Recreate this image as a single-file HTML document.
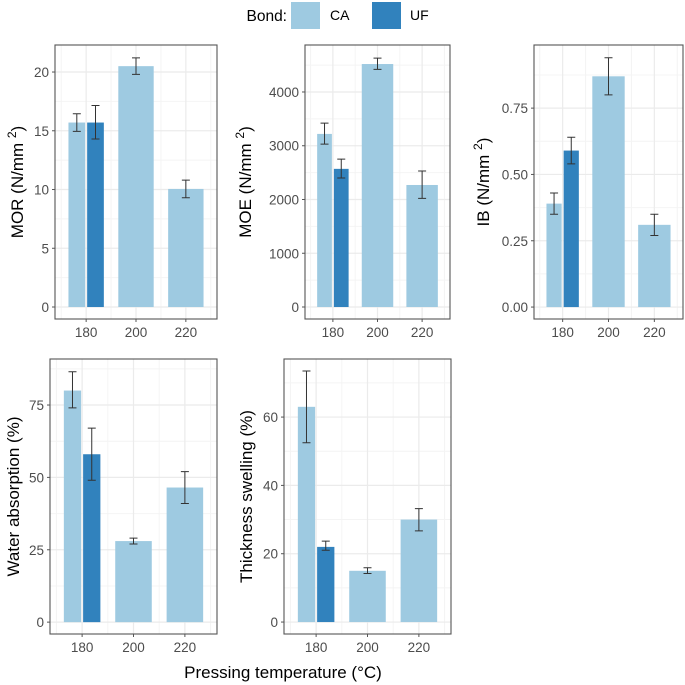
<!DOCTYPE html>
<html><head><meta charset="utf-8"><style>
html,body{margin:0;padding:0;background:#fff;}
svg{display:block;font-family:"Liberation Sans",sans-serif;}
</style></head><body>
<svg id="c" width="685" height="685" viewBox="0 0 685 685">
  <g>
    <text x="287" y="21" font-size="15.5" fill="#000" text-anchor="end">Bond:</text>
    <rect x="291" y="2" width="29" height="27" fill="#9ecae1"/>
    <text x="330" y="20" font-size="14" fill="#000">CA</text>
    <rect x="372" y="2" width="29" height="27" fill="#3182bd"/>
    <text x="410" y="20" font-size="14" fill="#000">UF</text>
  </g>
  <text x="283" y="678" font-size="17" text-anchor="middle" fill="#000">Pressing temperature (°C)</text>
</svg>
<script>
const temps = [180, 200, 220];
const bonds = ["CA", "UF", "CA", "CA"];
const barTemps = [180, 180, 200, 220];
const morVals = [15.7, 15.7, 20.5, 10.05];
const morLo = [14.95, 14.3, 19.8, 9.3];
const morHi = [16.45, 17.15, 21.2, 10.8];
const moeVals = [3220, 2570, 4520, 2270];
const moeLo = [3030, 2400, 4420, 2020];
const moeHi = [3420, 2750, 4630, 2530];
const ibVals = [0.39, 0.59, 0.87, 0.31];
const ibLo = [0.35, 0.54, 0.80, 0.27];
const ibHi = [0.43, 0.64, 0.94, 0.35];
const waVals = [80, 58, 28, 46.5];
const waLo = [74, 49, 27, 41];
const waHi = [86.5, 67, 29, 52];
const tsVals = [63, 22, 15, 30];
const tsLo = [52.5, 21, 14.2, 26.7];
const tsHi = [73.5, 23.7, 15.9, 33.2];
const morTicks = [0, 5, 10, 15, 20];
const moeTicks = [0, 1000, 2000, 3000, 4000];
const ibTicks = [0, 0.25, 0.5, 0.75];
const ibTickLabels = ["0.00", "0.25", "0.50", "0.75"];
const waTicks = [0, 25, 50, 75];
const tsTicks = [0, 20, 40, 60];

const NS = "http://www.w3.org/2000/svg";
const svg = document.getElementById("c");
function mk(tag, attrs, parent) {
  const e = document.createElementNS(NS, tag);
  for (const k in attrs) e.setAttribute(k, attrs[k]);
  parent.appendChild(e);
  return e;
}
const COL = {CA: "#9ecae1", UF: "#3182bd"};

function panel(p) {
  const g = mk("g", {}, svg);
  
  
  const xs = v => p.x0 + (v - 167.5) / 65 * (p.x1 - p.x0);
  const ys = v => p.y1 - (v - p.ymin) / (p.ymax - p.ymin) * (p.y1 - p.y0);
  mk("rect", {x: p.x0, y: p.y0, width: p.x1 - p.x0, height: p.y1 - p.y0, fill: "#fff"}, g);
  for (let i = 0; i < p.ticks.length; i++) {
    const m = p.ticks[i] + (p.ticks[1] - p.ticks[0]) / 2;
    if (m < p.ymax) {
      const y = ys(m);
      const l = mk("line", {x1: p.x0, x2: p.x1, y1: y, y2: y, stroke: "#f4f4f4", "stroke-width": 1}, g);
      
      
    }
  }
  [170, 190, 210, 230].forEach(v => {
    const x = xs(v);
    const l = mk("line", {x1: x, x2: x, y1: p.y0, y2: p.y1, stroke: "#f4f4f4", "stroke-width": 1}, g);
    
    
  });
  p.ticks.forEach((t, i) => {
    const y = ys(t);
    const l = mk("line", {x1: p.x0, x2: p.x1, y1: y, y2: y, stroke: "#ebebeb", "stroke-width": 1.2}, g);
    
    
    mk("line", {x1: p.x0 - 3, x2: p.x0, y1: y, y2: y, stroke: "#555", "stroke-width": 1}, g);
    const tx = mk("text", {x: p.x0 - 6, y: y + 5, "font-size": 13.5, "text-anchor": "end", fill: "#4d4d4d"}, g);
    tx.textContent = p.labels ? p.labels[i] : String(t);
    
    
  });
  temps.forEach(t => {
    const x = xs(t);
    const l = mk("line", {x1: x, x2: x, y1: p.y0, y2: p.y1, stroke: "#ebebeb", "stroke-width": 1.2}, g);
    
    
    mk("line", {x1: x, x2: x, y1: p.y1, y2: p.y1 + 3, stroke: "#555", "stroke-width": 1}, g);
    const tx = mk("text", {x: x, y: p.y1 + 18, "font-size": 13.5, "text-anchor": "middle", fill: "#4d4d4d"}, g);
    tx.textContent = String(t);
    
    
  });
  for (let i = 0; i < p.vals.length; i++) {
    const t = barTemps[i];
    const dodged = barTemps.filter(v => v === t).length > 1;
    let c0, c1;
    if (dodged) {
      const idx = barTemps.slice(0, i).filter(v => v === t).length;
      c0 = t - 7.5 + idx * 7.5; c1 = c0 + 7.5;
    } else { c0 = t - 7.5; c1 = t + 7.5; }
    const xa = xs(c0) + 1, xb = xs(c1) - 1;
    const ya = ys(p.vals[i]), yb = ys(0);
    const r = mk("rect", {x: xa, y: ya, width: xb - xa, height: yb - ya, fill: COL[bonds[i]]}, g);
    
    
    const cx = (xa + xb) / 2, yl = ys(p.lo[i]), yh = ys(p.hi[i]);
    const e = mk("path", {d: `M${cx-4},${yh}H${cx+4}M${cx},${yh}V${yl}M${cx-4},${yl}H${cx+4}`, stroke: "#333", "stroke-width": 1, fill: "none"}, g);
    
    
  }
  mk("rect", {x: p.x0, y: p.y0, width: p.x1 - p.x0, height: p.y1 - p.y0, fill: "none", stroke: "#555", "stroke-width": 1.1}, g);
  const ty = (p.y0 + p.y1) / 2;
  const tt = mk("text", {x: p.tx, y: ty, "font-size": 17, "text-anchor": "middle", fill: "#000", transform: `rotate(-90 ${p.tx} ${ty})`}, g);
  
  
  if (p.sup) {
    tt.appendChild(document.createTextNode(p.title + " (N/mm "));
    const s = mk("tspan", {"font-size": 12, dy: -7}, tt);
    s.textContent = "2";
    const s2 = mk("tspan", {dy: 7}, tt);
    s2.textContent = ")";
  } else tt.textContent = p.title;
}

panel({name: "mor", x0: 55, x1: 217, y0: 45, y1: 319, ymin: -1.02, ymax: 22.3, ticks: morTicks, vals: morVals, lo: morLo, hi: morHi, title: "MOR", sup: true, tx: 23});
panel({name: "moe", x0: 305, x1: 450, y0: 45, y1: 319, ymin: -223, ymax: 4874, ticks: moeTicks, vals: moeVals, lo: moeLo, hi: moeHi, title: "MOE", sup: true, tx: 251});
panel({name: "ib", x0: 534, x1: 683, y0: 45, y1: 319, ymin: -0.045, ymax: 0.988, ticks: ibTicks, labels: ibTickLabels, vals: ibVals, lo: ibLo, hi: ibHi, title: "IB", sup: true, tx: 489});
panel({name: "water-absorption", x0: 50, x1: 217, y0: 359, y1: 634, ymin: -4.1, ymax: 90.9, ticks: waTicks, vals: waVals, lo: waLo, hi: waHi, title: "Water absorption (%)", sup: false, tx: 19});
panel({name: "thickness-swelling", x0: 284, x1: 451, y0: 359, y1: 634, ymin: -3.5, ymax: 77, ticks: tsTicks, vals: tsVals, lo: tsLo, hi: tsHi, title: "Thickness swelling (%)", sup: false, tx: 252});
</script>
</body></html>
